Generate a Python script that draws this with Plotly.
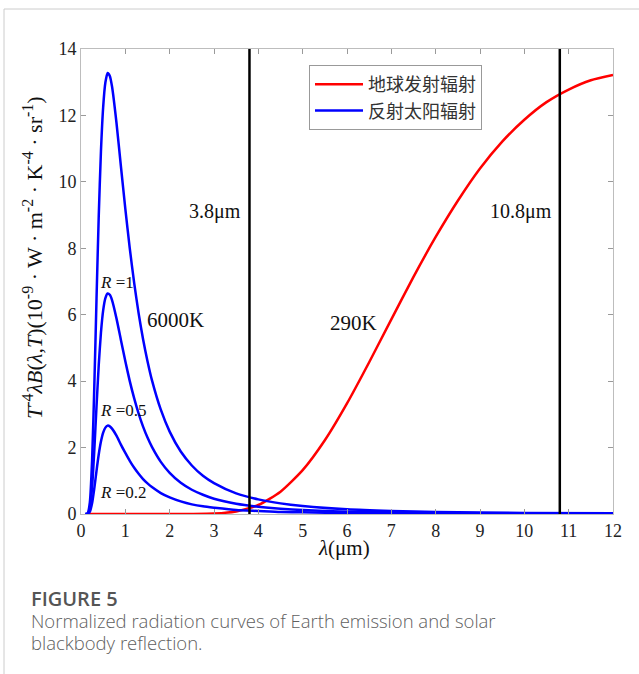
import plotly.graph_objects as go

# ---------------- data ----------------
wl_sun = [0.1, 0.15, 0.2, 0.25, 0.3, 0.35, 0.4, 0.45, 0.5, 0.55, 0.6, 0.65, 0.7,
          0.8, 0.9, 1.0, 1.1, 1.2, 1.3, 1.4, 1.5, 1.6, 1.8, 2.0, 2.25, 2.5, 2.75,
          3.0, 3.5, 4.0, 4.5, 5.0, 6.0, 7.0, 8.0, 10.0, 12.0]
sun_r1 = [0, 0.02, 0.36, 1.61, 3.83, 6.48, 8.96, 10.92, 12.25, 12.99, 13.28, 13.19,
          12.87, 11.78, 10.47, 9.19, 8.00, 6.95, 6.04, 5.26, 4.60, 4.03, 3.14, 2.48,
          1.88, 1.46, 1.15, 0.93, 0.62, 0.44, 0.32, 0.24, 0.14, 0.09, 0.06, 0.03, 0.02]
sun_r05 = [0, 0.01, 0.18, 0.80, 1.92, 3.24, 4.48, 5.46, 6.13, 6.50, 6.64, 6.60,
           6.44, 5.89, 5.24, 4.60, 4.00, 3.48, 3.02, 2.63, 2.30, 2.02, 1.57, 1.24,
           0.94, 0.73, 0.58, 0.46, 0.31, 0.22, 0.16, 0.12, 0.07, 0.05, 0.03, 0.02, 0.01]
sun_r02 = [0, 0.0, 0.07, 0.32, 0.77, 1.30, 1.79, 2.18, 2.45, 2.60, 2.66, 2.64,
           2.57, 2.36, 2.09, 1.84, 1.60, 1.39, 1.21, 1.05, 0.92, 0.81, 0.63, 0.50,
           0.38, 0.29, 0.23, 0.19, 0.12, 0.09, 0.06, 0.05, 0.03, 0.02, 0.01, 0.01, 0.0]

wl_earth = [0.2, 1, 2, 2.5, 3, 3.5, 4, 4.5, 5, 5.5, 6, 6.5, 7, 7.5, 8, 8.5, 9, 9.5,
            10, 10.5, 11, 11.5, 12]
earth = [0, 0, 0, 0.001, 0.014, 0.078, 0.271, 0.672, 1.32, 2.22, 3.33, 4.57, 5.86,
         7.14, 8.34, 9.43, 10.40, 11.21, 11.87, 12.40, 12.78, 13.06, 13.22]

cutoffs = [3.8, 10.8]
cutoff_labels = ["3.8μm", "10.8μm"]
x_ticks = list(range(0, 13))
y_ticks = [0, 2, 4, 6, 8, 10, 12, 14]

legend_names = ["地球发射辐射", "反射太阳辐射"]

# ---------------- layout constants ----------------
W, H = 639, 674
L, R, T, B = 81, 26, 49, 160
PW, PH = W - L - R, H - T - B


def px_x(p):
    return (p - L) / PW


def px_y(p):
    return (H - B - p) / PH


SERIF = "Liberation Serif, Times New Roman, serif"
SANS = "Open Sans, Noto Sans, sans-serif"
BLUE = "#0000ff"
RED = "#ff0000"
LW = 2.5

fig = go.Figure()

fig.add_trace(go.Scatter(x=wl_earth, y=earth, mode="lines", name=legend_names[0],
                         line=dict(color=RED, width=LW, shape="spline", smoothing=0.6)))
fig.add_trace(go.Scatter(x=wl_sun, y=sun_r1, mode="lines", name=legend_names[1],
                         legendgroup="sun",
                         line=dict(color=BLUE, width=LW, shape="spline", smoothing=0.6)))
fig.add_trace(go.Scatter(x=wl_sun, y=sun_r05, mode="lines", showlegend=False,
                         legendgroup="sun",
                         line=dict(color=BLUE, width=LW, shape="spline", smoothing=0.6)))
fig.add_trace(go.Scatter(x=wl_sun, y=sun_r02, mode="lines", showlegend=False,
                         legendgroup="sun",
                         line=dict(color=BLUE, width=LW, shape="spline", smoothing=0.6)))

for c in cutoffs:
    fig.add_shape(type="line", xref="x", yref="y", x0=c, x1=c, y0=0, y1=14,
                  line=dict(color="#000000", width=2.5))

TXT = "#111"


def sup(s):
    return '<sup><span style="font-size:16px">' + s + "</span></sup>"


ylabel = ("<i>T</i>" + sup("-4") + "<i>λB</i>(<i>λ</i>,<i>T</i>)(10" + sup("-9")
          + " · W · m" + sup("-2") + " · K" + sup("-4") + " · sr" + sup("-1") + ")")

annotations = []
for c, lab in zip(cutoffs, cutoff_labels):
    annotations.append(dict(x=c, y=9.1, xref="x", yref="y", text=lab, showarrow=False,
                            xanchor="right", yanchor="middle", xshift=-6,
                            font=dict(family=SERIF, size=20, color=TXT)))

annotations += [
    dict(x=2.13, y=5.84, xref="x", yref="y", text="6000K", showarrow=False,
         xanchor="center", yanchor="middle", font=dict(family=SERIF, size=21, color=TXT)),
    dict(x=6.14, y=5.74, xref="x", yref="y", text="290K", showarrow=False,
         xanchor="center", yanchor="middle", font=dict(family=SERIF, size=21, color=TXT)),
    dict(x=0.38, y=6.97, xref="x", yref="y", text="<i>R</i> =1", showarrow=False,
         xanchor="left", yanchor="middle", font=dict(family=SERIF, size=17, color=TXT)),
    dict(x=0.38, y=3.11, xref="x", yref="y", text="<i>R</i> =0.5", showarrow=False,
         xanchor="left", yanchor="middle", font=dict(family=SERIF, size=17, color=TXT)),
    dict(x=0.38, y=0.64, xref="x", yref="y", text="<i>R</i> =0.2", showarrow=False,
         xanchor="left", yanchor="middle", font=dict(family=SERIF, size=17, color=TXT)),
    # axis titles
    dict(x=px_x(33), y=px_y(258), xref="paper", yref="paper", textangle=-90,
         xanchor="center", yanchor="middle", text=ylabel,
         showarrow=False, font=dict(family=SERIF, size=22, color=TXT)),
    dict(x=px_x(344), y=px_y(548), xref="paper", yref="paper",
         xanchor="center", yanchor="middle",
         text="<i>λ</i>(μm)", showarrow=False,
         font=dict(family=SERIF, size=21, color=TXT)),
    # caption
    dict(x=px_x(29), y=px_y(598), xref="paper", yref="paper", xanchor="left",
         yanchor="middle", text="FIGURE 5", showarrow=False,
         font=dict(family=SANS, size=20, color="#555", weight=600)),
    dict(x=px_x(29), y=px_y(620), xref="paper", yref="paper", xanchor="left",
         yanchor="middle",
         text="Normalized radiation curves of Earth emission and solar",
         showarrow=False, font=dict(family=SANS, size=18.5, color="#606060", weight=300)),
    dict(x=px_x(29), y=px_y(642), xref="paper", yref="paper", xanchor="left",
         yanchor="middle", text="blackbody reflection.",
         showarrow=False, font=dict(family=SANS, size=18.5, color="#606060", weight=300)),
]

# card border lines (left and top)
fig.add_shape(type="line", xref="paper", yref="paper", x0=px_x(4), x1=px_x(4),
              y0=px_y(9), y1=px_y(H + 5), line=dict(color="#cccccc", width=1))
fig.add_shape(type="line", xref="paper", yref="paper", x0=px_x(4), x1=px_x(W + 5),
              y0=px_y(9), y1=px_y(9), line=dict(color="#cccccc", width=1))

axis_common = dict(showgrid=False, zeroline=False, showline=True, mirror="ticks",
                   linecolor="#bdbdbd", linewidth=1, ticks="inside", ticklen=5,
                   tickcolor="#9a9a9a",
                   tickfont=dict(family=SERIF, size=18, color="#222"))

fig.update_layout(
    width=W, height=H,
    margin=dict(l=L, r=R, t=T, b=B),
    paper_bgcolor="white", plot_bgcolor="white",
    xaxis=dict(range=[0, 12], tickvals=x_ticks, **axis_common),
    yaxis=dict(range=[0, 14], tickvals=y_ticks, **axis_common),
    legend=dict(x=px_x(309), y=px_y(65), xanchor="left", yanchor="top",
                bgcolor="white", bordercolor="#999999", borderwidth=1,
                font=dict(family="Noto Sans CJK SC", size=18, color="#333"),
                itemwidth=48, tracegroupgap=0),
    annotations=annotations,
    showlegend=True,
)

fig.write_html("out.html", config={"displayModeBar": False},
               post_script="document.body.style.margin='0';document.body.style.overflow='hidden';")
